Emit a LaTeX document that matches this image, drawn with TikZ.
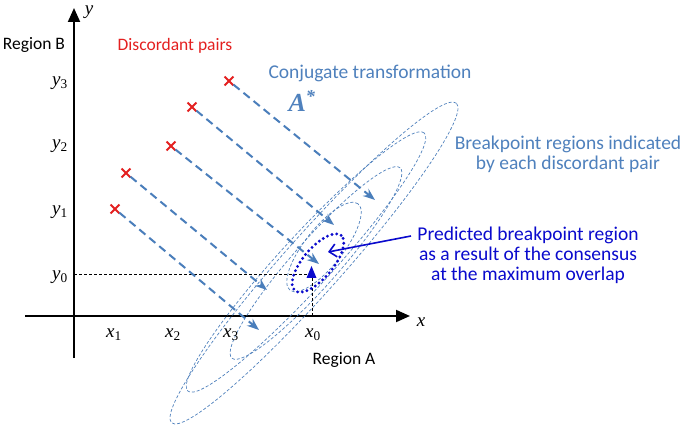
\documentclass[tikz,border=0pt]{standalone}
\usepackage{fontspec}
\setmainfont{Carlito}
\newfontfamily\tms{Liberation Serif}
\usetikzlibrary{arrows.meta,shapes.misc}
\definecolor{steel}{RGB}{79,129,189}
\definecolor{arrblue}{RGB}{74,126,187}
\definecolor{predblue}{RGB}{10,10,205}
\definecolor{xred}{RGB}{228,32,32}
\newcommand{\vlab}[2]{{\tms\itshape #1}{\tms\textsubscript{#2}}}
\begin{document}
\begin{tikzpicture}[x=1pt,y=-1pt,
 pairx/.style={cross out,draw=xred,line width=1.8pt,minimum size=7pt,inner sep=0pt},
 transf/.style={arrblue,line width=2pt,dash pattern=on 8pt off 5pt,-{Stealth[length=12pt,width=9pt]}},
 region/.style={steel,line width=0.7pt,dash pattern=on 3pt off 2pt},
 guide/.style={black,line width=0.8pt,dash pattern=on 3pt off 2pt},
 axis/.style={black,line width=2pt,-{Triangle[length=14pt,width=12pt]}},
 lab/.style={font=\fontsize{17.5}{20}\selectfont},
 bluelab/.style={font=\fontsize{19.5}{20}\selectfont, align=center},
 mathlab/.style={font=\fontsize{19}{22}\selectfont, inner sep=0pt}
]
\useasboundingbox (0,0) rectangle (685,430);
\fill[white] (0,0) rectangle (685,430);

% axes
\coordinate (xs) at (25,316);
\coordinate (xe) at (410,316);
\coordinate (ys) at (74,358);
\coordinate (ye) at (74,8);
\draw[axis] (xs) -- (xe);
\draw[axis] (ys) -- (ye);

% breakpoint regions
\draw[region, rotate around={48.3:(314,263)}] (314,263) ellipse [x radius=214pt, y radius=29pt];
\draw[region, rotate around={47.5:(306,262)}] (306,262) ellipse [x radius=175pt, y radius=26pt];
\draw[region, rotate around={48.5:(316,263)}] (316,263) ellipse [x radius=127pt, y radius=23pt];
\draw[region, rotate around={51.7:(324,247)}] (324,247) ellipse [x radius=55pt, y radius=19pt];

% guides
\coordinate (gy) at (74,274);
\coordinate (gm) at (308,274);
\coordinate (gx) at (312,316);
\coordinate (gt) at (312,278);
\draw[guide] (gy) -- (gm);
\draw[guide] (gx) -- (gt);

% consensus
\draw[predblue, line width=3.2pt, dash pattern=on 0pt off 4.8pt, line cap=round, rotate around={50:(318,263)}] (318,263) ellipse [x radius=36pt, y radius=15pt];
\fill[predblue] (311.5,266) -- (306.5,278) -- (316.5,278) -- cycle;

% discordant pairs
\node[pairx] (c1) at (115,209) {};
\node[pairx] (c2) at (126,173) {};
\node[pairx] (c3) at (171,146) {};
\node[pairx] (c4) at (192,107) {};
\node[pairx] (c5) at (229,81) {};
\coordinate (e1) at (259,330);
\coordinate (e2) at (267,290);
\coordinate (e3) at (319,264);
\coordinate (e4) at (334,225);
\coordinate (e5) at (375,200);
\draw[transf] (c1) -- (e1);
\draw[transf] (c2) -- (e2);
\draw[transf] (c3) -- (e3);
\draw[transf] (c4) -- (e4);
\draw[transf] (c5) -- (e5);

% texts
\node[lab] (rb) at (34,45) {Region B};
\node[lab, text=xred] (dp) at (175,46) {Discordant pairs};
\node[bluelab, text=steel] (ct) at (370,73) {Conjugate transformation};
\node[text=steel, font=\fontsize{26}{28}\selectfont\tms\bfseries\itshape] (astar) at (302,101) {A\textsuperscript{*}};
\node[bluelab, text=steel] (br) at (568,154) {Breakpoint regions indicated\\by each discordant pair};
\node[bluelab, text=predblue] (pr) at (528,255) {Predicted breakpoint region\\as a result of the consensus\\at the maximum overlap};
\node[lab] (ra) at (344,360) {Region A};

\coordinate (ps) at (411,236);
\coordinate (pe) at (328,252);
\draw[predblue, line width=1.6pt, -{Straight Barb[length=7pt,width=13pt]}] (ps) -- (pe);

% axis labels
\node[mathlab] (ly3) at (60,83) {\vlab{y}{3}};
\node[mathlab] (ly2) at (60,146) {\vlab{y}{2}};
\node[mathlab] (ly1) at (60,212) {\vlab{y}{1}};
\node[mathlab] (ly0) at (60,277) {\vlab{y}{0}};
\node[mathlab] (lx1) at (114,335) {\vlab{x}{1}};
\node[mathlab] (lx2) at (173,335) {\vlab{x}{2}};
\node[mathlab] (lx3) at (231,335) {\vlab{x}{3}};
\node[mathlab] (lx0) at (313,335) {\vlab{x}{0}};
\node[mathlab] (lx) at (421,322) {{\tms\itshape x}};
\node[mathlab] (ly) at (89,12) {{\tms\itshape y}};
\end{tikzpicture}
\end{document}
